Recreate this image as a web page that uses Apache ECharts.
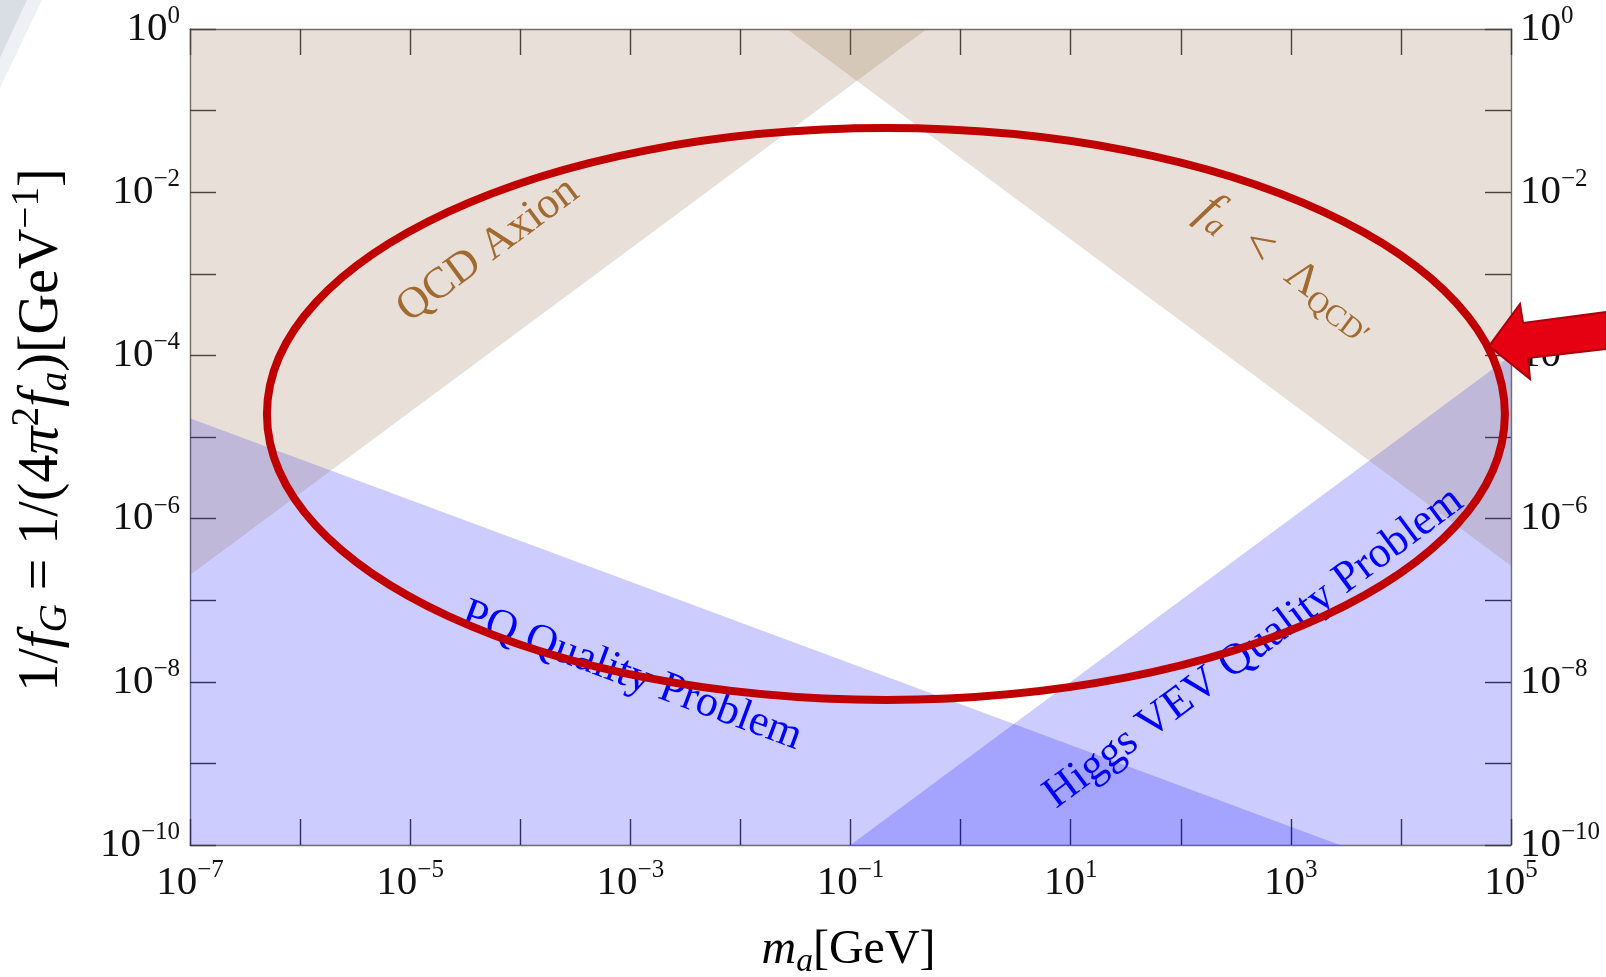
<!DOCTYPE html>
<html>
<head>
<meta charset="utf-8">
<script src="https://cdn.jsdelivr.net/npm/echarts@6/dist/echarts.min.js"></script>
<style>
  html, body { margin: 0; padding: 0; background: #ffffff; }
  #main { width: 1606px; height: 977px; }
</style>
</head>
<body>
<div id="main"></div>
<script>
// Axis ranges: m_a in GeV, 1/f_G in GeV^-1
const xRange = [1e-7, 1e5];
const yRange = [1e-10, 1];

// Straight (log-log) boundaries of each region, as [m_a, 1/f_G] end points
const qcdAxionEdge  = [[1e-7, 2.04e-7], [0.494, 1]];
const faLambdaEdge  = [[0.0264, 1], [1e5, 2.64e-7]];
const pqQualityEdge = [[1e-7, 1.7e-5], [2.8e3, 1e-10]];
const higgsVevEdge  = [[0.1, 1e-10], [1e5, 1e-4]];

// Where each region label sits, [m_a, 1/f_G]
const qcdLabelAt   = [5.1e-5, 1.96e-3];
const faLabelAt    = [9.2e2, 1.18e-3];
const pqLabelAt    = [1.03e-3, 1.18e-8];
const higgsLabelAt = [4.6e2, 2.6e-8];

// Corners of the highlighted window, [m_a, 1/f_G]
const focusBox = [[5.0e-7, 6.1e-2], [8.8e4, 6.0e-9]];

const serif = "'Liberation Serif', 'Times New Roman', serif";
const BROWN_FILL = 'rgba(140,100,60,0.2)';
const BLUE_FILL = 'rgba(0,0,255,0.2)';
const BROWN_TEXT = '#a06a30';
const BLUE_TEXT = '#0000ff';

const chart = echarts.init(document.getElementById('main'));

const expText = e => (e < 0 ? '\u2212' : '') + Math.abs(e);
const tickFormatter = first => v => {
  const e = Math.round(Math.log10(v));
  return (e - first) % 2 === 0 ? '{b|10}{s|' + expText(e) + '}' : '';
};
const tickRich = {
  b: { fontFamily: serif, fontSize: 41, lineHeight: 50, color: '#111' },
  s: { fontFamily: serif, fontSize: 25, lineHeight: 30, verticalAlign: 'top', color: '#111' }
};

function logAxis(range, position, showLabel, margin, first) {
  return {
    type: 'log', logBase: 10, min: range[0], max: range[1],
    interval: 1, splitNumber: Math.round(Math.log10(range[1] / range[0])),
    position: position,
    axisLine: { show: true, onZero: false, lineStyle: { color: '#6e6e6e', width: 1.4 } },
    axisTick: { show: true, inside: true, length: 26, lineStyle: { color: '#3a3a3a', width: 1.4 } },
    minorTick: { show: false },
    splitLine: { show: false },
    axisLabel: {
      show: showLabel, margin: margin, showMinLabel: true, showMaxLabel: true,
      formatter: tickFormatter(first), rich: tickRich
    }
  };
}

function band(name, edge, color, origin) {
  return {
    type: 'line', name: name, data: edge, xAxisIndex: 0, yAxisIndex: 0,
    symbol: 'none', silent: true, smooth: false,
    lineStyle: { width: 0, opacity: 0 },
    areaStyle: { color: color, opacity: 1, origin: origin }
  };
}

chart.setOption({
  animation: false,
  grid: { left: 190, top: 29, width: 1321, height: 816, containLabel: false, outerBoundsMode: 'none' },
  xAxis: [
    logAxis(xRange, 'bottom', true, 13, -7),
    logAxis(xRange, 'top', false, 8, -7)
  ],
  yAxis: [
    logAxis(yRange, 'left', true, 10, -10),
    logAxis(yRange, 'right', true, 9, -10)
  ],
  series: [
    band('PQ Quality Problem', pqQualityEdge, BLUE_FILL, 'start'),
    band('Higgs VEV Quality Problem', higgsVevEdge, BLUE_FILL, 'start'),
    band('QCD Axion', qcdAxionEdge, BROWN_FILL, 'end'),
    band('f_a < Lambda_QCD\'', faLambdaEdge, BROWN_FILL, 'end')
  ]
});

const toPx = p => chart.convertToPixel({ xAxisIndex: 0, yAxisIndex: 0 }, p);
const slopeAngle = edge => {
  const a = toPx(edge[0]), b = toPx(edge[1]);
  return Math.atan2(-(b[1] - a[1]), b[0] - a[0]);
};

function regionLabel(id, at, edge, text, rich, fill) {
  const p = toPx(at);
  return {
    type: 'text', id: id, x: p[0], y: p[1], rotation: slopeAngle(edge), z: 20, silent: true,
    style: {
      text: text, rich: rich, fill: fill,
      align: 'center', verticalAlign: 'middle', textAlign: 'center', textVerticalAlign: 'middle'
    }
  };
}

const labelRich = fill => ({
  t: { fontFamily: serif, fontSize: 44, lineHeight: 52, color: fill },
  op: { fontFamily: serif, fontSize: 50, lineHeight: 52, color: fill },
  i: { fontFamily: serif, fontStyle: 'italic', fontSize: 50, lineHeight: 52, color: fill },
  sub: { fontFamily: serif, fontStyle: 'italic', fontSize: 32, lineHeight: 36, verticalAlign: 'bottom', color: fill },
  sub2: { fontFamily: serif, fontSize: 30, lineHeight: 34, verticalAlign: 'bottom', color: fill }
});

const gridTL = toPx([xRange[0], yRange[1]]);
const gridBR = toPx([xRange[1], yRange[0]]);
const gridCX = (gridTL[0] + gridBR[0]) / 2;
const gridCY = (gridTL[1] + gridBR[1]) / 2;

const nameRich = (size) => ({
  r: { fontFamily: serif, fontSize: size, lineHeight: size * 1.2, color: '#111' },
  i: { fontFamily: serif, fontStyle: 'italic', fontSize: size, lineHeight: size * 1.2, color: '#111' },
  sub: { fontFamily: serif, fontStyle: 'italic', fontSize: size * 0.7, lineHeight: size * 0.72, verticalAlign: 'bottom', color: '#111' },
  sup: { fontFamily: serif, fontSize: size * 0.7, lineHeight: size * 0.66, verticalAlign: 'top', color: '#111' }
});

const f0 = toPx(focusBox[0]), f1 = toPx(focusBox[1]);

chart.setOption({
  graphic: [
    // slide backdrop wedge in the corner
    { type: 'polygon', id: 'wedgeLight', z: 1, silent: true,
      shape: { points: [[27, 0], [42, 0], [0, 88], [0, 58]] }, style: { fill: '#eef0f3' } },
    { type: 'polygon', id: 'wedgeDark', z: 1, silent: true,
      shape: { points: [[0, 0], [27, 0], [0, 58]] }, style: { fill: '#d9dde4' } },

    regionLabel('lblQcd', qcdLabelAt, qcdAxionEdge, '{t|QCD Axion}', labelRich(BROWN_TEXT), BROWN_TEXT),
    regionLabel('lblFa', faLabelAt, faLambdaEdge, '{i|f}{sub|a}{op|  <  }{t|\u039B}{sub2|QCD\u2032}', labelRich(BROWN_TEXT), BROWN_TEXT),
    regionLabel('lblPq', pqLabelAt, pqQualityEdge, '{t|PQ Quality Problem}', labelRich(BLUE_TEXT), BLUE_TEXT),
    regionLabel('lblHiggs', higgsLabelAt, higgsVevEdge, '{t|Higgs VEV Quality Problem}', labelRich(BLUE_TEXT), BLUE_TEXT),

    // axis titles
    { type: 'text', id: 'xName', x: gridCX - 2, y: gridBR[1] + 105, z: 20, silent: true,
      style: { text: '{i|m}{sub|a}{r|[GeV]}', rich: nameRich(48),
               align: 'center', verticalAlign: 'middle', textAlign: 'center', textVerticalAlign: 'middle' } },
    { type: 'text', id: 'yName', x: 42, y: gridCY - 7, rotation: Math.PI / 2, z: 20, silent: true,
      style: { text: '{r|1/}{i|f}{sub|G}{r| = 1/(4}{i|\u03C0}{sup|2}{i|f}{sub|a}{r|)[GeV}{sup|\u22121}{r|]}',
               rich: nameRich(56),
               align: 'center', verticalAlign: 'middle', textAlign: 'center', textVerticalAlign: 'middle' } },

    // highlighted window
    { type: 'ellipse', id: 'focus', z: 30, silent: true,
      shape: { cx: (f0[0] + f1[0]) / 2, cy: (f0[1] + f1[1]) / 2,
               rx: Math.abs(f1[0] - f0[0]) / 2, ry: Math.abs(f1[1] - f0[1]) / 2 },
      style: { fill: 'none', stroke: '#c00000', lineWidth: 8 } },

    // pointer arrow coming in from the right
    { type: 'polygon', id: 'arrow', z: 40, silent: true,
      shape: { points: [[1489, 346], [1520, 304], [1523, 323], [1606, 312], [1606, 349], [1528, 358], [1530, 379]] },
      style: { fill: '#e50012', stroke: '#a8000c', lineWidth: 2, lineJoin: 'miter' } }
  ]
});
</script>
</body>
</html>
